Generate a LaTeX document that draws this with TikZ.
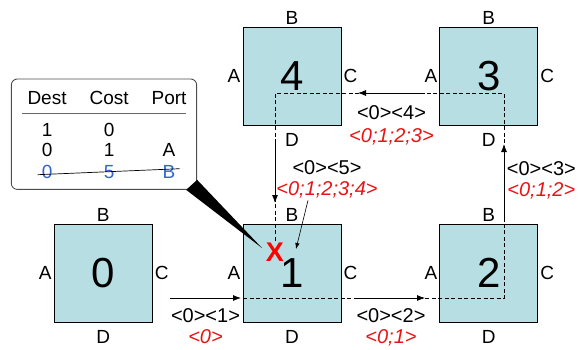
\documentclass[tikz,border=0pt]{standalone}
\usepackage{fontspec}
\setmainfont{Liberation Sans}
\usepackage{tikz}
\usetikzlibrary{arrows.meta, positioning, fit, backgrounds, matrix}
\definecolor{boxfill}{RGB}{183,222,226}
\definecolor{pathred}{RGB}{232,20,20}
\definecolor{oldblue}{RGB}{50,100,210}
\tikzset{
  prt/.style ={font=\fontsize{19}{22}\selectfont, inner sep=2pt, minimum size=0pt, draw=none, fill=none, text=black},
  rtr/.style ={rectangle, draw, fill=boxfill, line width=0.8pt, minimum size=98pt, inner sep=0pt,
               font=\fontsize{42}{48}\selectfont,
               label={[prt]above:B}, label={[prt, label distance=6pt]below:D},
               label={[prt]left:A}, label={[prt]right:C}},
  msg/.style ={font=\fontsize{20}{23}\selectfont, text height=14.5pt, text depth=3.5pt, inner sep=0pt},
  pth/.style ={msg, text=pathred, text depth=1pt, font=\fontsize{20}{23}\selectfont\itshape},
  fl/.style  ={-{Latex[length=8pt, width=6pt]}, line width=0.8pt},
  rt/.style  ={line width=0.8pt, dash pattern=on 4pt off 2.5pt},
  memo/.style={rectangle, rounded corners=6pt, draw=black!70, line width=0.9pt, fill=white, inner sep=0pt},
}
\begin{document}
\begin{tikzpicture}[x=1pt, y=-1pt]
  \useasboundingbox (0,0) rectangle (579,349);
  % routers
  \node[rtr] (n1) at (292,273) {1};
  \node[rtr, left=90pt of n1] (n0) {0};
  \node[rtr, right=98pt of n1] (n2) {2};
  \node[rtr, above=98pt of n1] (n4) {4};
  \node[rtr, right=98pt of n4] (n3) {3};
  % routing table of 1
  \matrix (tbl) [matrix of nodes, ampersand replacement=\&, anchor=north, inner sep=0pt,
      column sep=23pt, row sep=2pt,
      nodes={anchor=center, inner sep=0pt, text height=14pt, text depth=4pt, font=\fontsize{19}{22}\selectfont}]
      at (107,90.5) {
    Dest \& Cost \& Port \\[12pt]
    1 \& 0 \& \\
    0 \& 1 \& A \\[2pt]
    |[text=oldblue]| 0 \& |[text=oldblue]| 5 \& |[text=oldblue]| B \\
  };
  \draw[black!60, line width=0.9pt] ([shift={(-5.5pt,-4.5pt)}]tbl-1-1.south west) -- ([shift={(-1pt,-4.5pt)}]tbl-1-3.south east);
  \draw[line width=0.7pt] ([shift={(-4pt,-1pt)}]tbl-4-1.west) -- ([shift={(4pt,5pt)}]tbl-4-3.east);
  \begin{scope}[on background layer]
    \node[memo, fit={([shift={(-16pt,11.5pt)}]tbl.north west) ([shift={(10pt,-6.5pt)}]tbl.south east)}] (note) {};
  \end{scope}
  \coordinate (tip) at (262,248);
  \fill ([xshift=-11pt]note.south east) -- ([yshift=10pt]note.south east) -- (tip) -- cycle;
  \node[text=red, inner sep=0pt, font=\fontsize{27}{30}\selectfont\bfseries] (xm) at (275,252) {X};
  % path of the packet
  \coordinate (t1) at (243,298);
  \coordinate (t2) at (504,298);
  \coordinate (t3) at (504,93);
  \coordinate (t4) at (275,93);
  \draw[rt] (t1) -- (t2) -- (t3) -- (t4) -- (xm.north);
  \coordinate (a01) at (170,298);  \coordinate (b01) at (241,298);
  \coordinate (a12) at (357,298);  \coordinate (b12) at (425,298);
  \coordinate (a23) at (504,222);  \coordinate (b23) at (504,144);
  \coordinate (a34) at (425,93);   \coordinate (b34) at (358,93);
  \coordinate (a45) at (275,143);  \coordinate (b45) at (275,203);
  \draw[fl] (a01) -- node[msg, below=10pt] (m01) {<0><1>} (b01);
  \node[pth, below=2pt of m01] (p01) {<0>};
  \draw[fl] (a12) -- node[msg, below=10pt] (m12) {<0><2>} (b12);
  \node[pth, below=2pt of m12] (p12) {<0;1>};
  \draw[fl] (a23) -- node[pth, pos=0.41, right=3pt] (p23) {<0;1;2>} (b23);
  \node[msg, above=3pt of p23] (m23) {<0><3>};
  \draw[fl] (a34) -- node[msg, below=12pt] (m34) {<0><4>} (b34);
  \node[pth, below=4pt of m34] (p34) {<0;1;2;3>};
  \draw[fl] (a45) -- node[pth, pos=0.77, right=1pt] (p45) {<0;1;2;3;4>} (b45);
  \node[msg, above=3pt of p45] (m45) {<0><5>};
  \coordinate (hit) at (296,249);
  \draw[-{Latex[length=6pt, width=4.5pt]}, line width=0.6pt] ([shift={(-19pt,-3pt)}]p45.south) -- (hit);
\end{tikzpicture}
\end{document}
